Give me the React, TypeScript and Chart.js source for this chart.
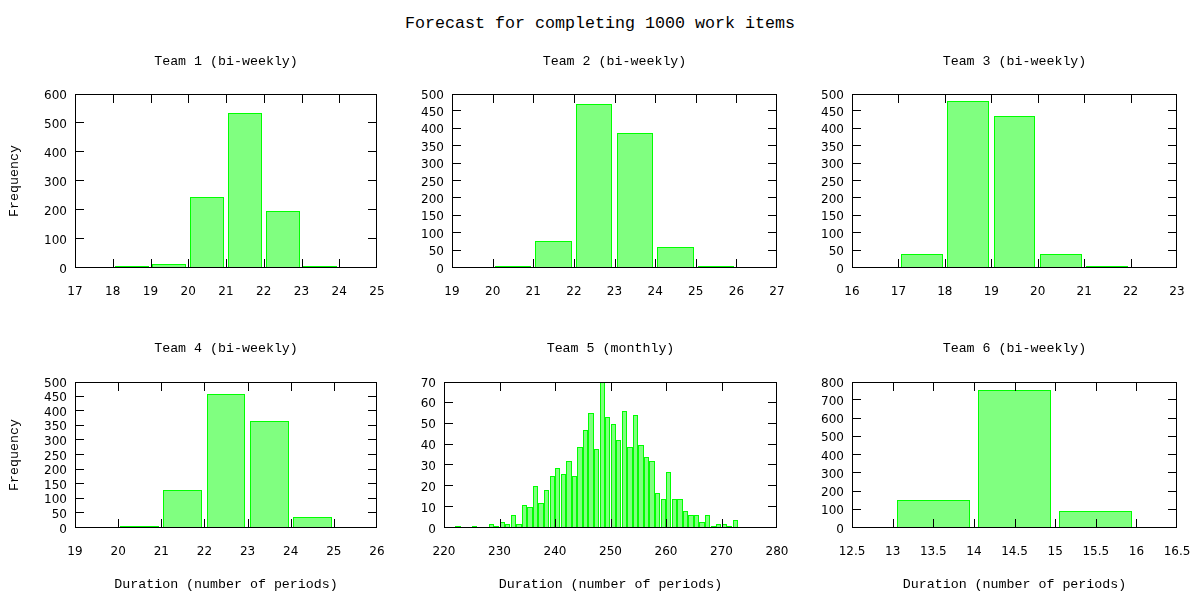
import React, { useEffect, useRef } from "react";
import { Chart, registerables } from "chart.js";

Chart.register(...registerables);

// ---------- data ----------
const chartTitle = "Forecast for completing 1000 work items";
const teamTitles = [
  "Team 1 (bi-weekly)",
  "Team 2 (bi-weekly)",
  "Team 3 (bi-weekly)",
  "Team 4 (bi-weekly)",
  "Team 5 (monthly)",
  "Team 6 (bi-weekly)",
];
const xAxisLabel = "Duration (number of periods)";
const yAxisLabel = "Frequency";

const team1Bins = [18, 19, 20, 21, 22, 23];
const team1Counts = [2, 15, 245, 533, 197, 8];

const team2Bins = [20, 21, 22, 23, 24, 25];
const team2Counts = [2, 77, 471, 387, 61, 2];

const team3Bins = [17, 18, 19, 20, 21];
const team3Counts = [40, 481, 438, 39, 2];

const team4Bins = [20, 21, 22, 23, 24];
const team4Counts = [6, 129, 460, 368, 37];

const team5Bins = [
  222, 223, 224, 225, 226, 227, 228, 229, 230, 231, 232, 233, 234, 235, 236, 237,
  238, 239, 240, 241, 242, 243, 244, 245, 246, 247, 248, 249, 250, 251, 252, 253,
  254, 255, 256, 257, 258, 259, 260, 261, 262, 263, 264, 265, 266, 267, 268, 269,
  270, 271, 272,
];
const team5Counts = [
  1, 0, 0, 1, 0, 0, 2, 1, 3, 2, 6, 2, 11, 10, 20, 12,
  18, 25, 29, 26, 32, 25, 39, 47, 55, 38, 70, 53, 50, 42, 56, 39,
  54, 40, 34, 32, 17, 14, 27, 14, 14, 8, 6, 6, 3, 6, 1, 2,
  2, 1, 4,
];

const team6Bins = [13, 14, 15];
const team6Counts = [152, 756, 92];

const teamBins = [team1Bins, team2Bins, team3Bins, team4Bins, team5Bins, team6Bins];
const teamCounts = [team1Counts, team2Counts, team3Counts, team4Counts, team5Counts, team6Counts];

const xAxisMin = [17, 19, 16, 19, 220, 12.5];
const xAxisMax = [25, 27, 23, 26, 280, 16.5];
const xAxisStep = [1, 1, 1, 1, 10, 0.5];
const yAxisMax = [600, 500, 500, 500, 70, 800];
const yAxisStep = [100, 50, 50, 50, 10, 100];

// ---------- layout / style ----------
const MONO = '"Liberation Mono", "DejaVu Sans Mono", monospace';
const SANS = '"DejaVu Sans", sans-serif';

const layoutSpec = [
  { left: 0, top: 40, height: 280, yW: 75, padR: 23, xH: 52, tTop: 13, tBot: 25, yTitle: true, xTitle: false, catPct: 1, barPct: 0.9 },
  { left: 400, top: 40, height: 280, yW: 52, padR: 23, xH: 52, tTop: 13, tBot: 25, yTitle: false, xTitle: false, catPct: 1, barPct: 0.9 },
  { left: 800, top: 40, height: 280, yW: 52, padR: 23, xH: 52, tTop: 13, tBot: 25, yTitle: false, xTitle: false, catPct: 1, barPct: 0.9 },
  { left: 0, top: 325, height: 275, yW: 75, padR: 23, xH: 72, tTop: 15, tBot: 26, yTitle: true, xTitle: true, catPct: 1, barPct: 0.9 },
  { left: 400, top: 325, height: 275, yW: 44, padR: 23, xH: 72, tTop: 15, tBot: 26, yTitle: false, xTitle: true, catPct: 1, barPct: 0.95 },
  { left: 800, top: 325, height: 275, yW: 52, padR: 23, xH: 72, tTop: 15, tBot: 26, yTitle: false, xTitle: true, catPct: 2, barPct: 0.9 },
];

const TICK_LEN = 9;

// snap bar rectangles (computed by the library) onto whole pixels for crisp outlines
const snapPlugin = {
  id: "snapBars",
  beforeDatasetsDraw(chart: any) {
    chart.getSortedVisibleDatasetMetas().forEach((meta: any) => {
      meta.data.forEach((el: any) => {
        const l = Math.round(el.x - el.width / 2);
        const r = Math.round(el.x + el.width / 2);
        el.x = (l + r) / 2;
        el.width = r - l;
        el.y = Math.round(el.y);
        el.base = Math.round(el.base);
      });
    });
  },
};

const framePlugin = {
  id: "gnuFrame",
  afterDatasetsDraw(chart: any) {
    const { ctx, chartArea } = chart;
    const { left, right, top, bottom } = chartArea;
    const xs = chart.scales.x;
    const ys = chart.scales.y;
    ctx.save();
    ctx.strokeStyle = "#000";
    ctx.lineWidth = 1;
    ctx.beginPath();
    xs.ticks.forEach((t: any) => {
      const p = Math.round(xs.getPixelForValue(t.value));
      if (p <= left || p >= right - 1) return;
      ctx.moveTo(p + 0.5, bottom);
      ctx.lineTo(p + 0.5, bottom - TICK_LEN);
      ctx.moveTo(p + 0.5, top);
      ctx.lineTo(p + 0.5, top + TICK_LEN);
    });
    ys.ticks.forEach((t: any) => {
      const p = Math.round(ys.getPixelForValue(t.value));
      if (p <= top + 1 || p >= bottom) return;
      ctx.moveTo(left, p - 0.5);
      ctx.lineTo(left + TICK_LEN, p - 0.5);
      ctx.moveTo(right, p - 0.5);
      ctx.lineTo(right - TICK_LEN, p - 0.5);
    });
    ctx.stroke();
    ctx.strokeRect(left + 0.5, top + 0.5, right - left - 1, bottom - top - 1);
    ctx.restore();
  },
};

function buildConfig(i: number): any {
  const s = layoutSpec[i];
  const bins = teamBins[i];
  const counts = teamCounts[i];
  const points = bins
    .map((b, k) => ({ x: b + 0.5, y: counts[k] }))
    .filter((p) => p.y > 0);
  const tickFont = { family: SANS, size: 12 };
  const labelFont = { family: MONO, size: 13.3, lineHeight: "16px", weight: "normal" };
  return {
    type: "bar",
    data: {
      datasets: [
        {
          data: points,
          backgroundColor: "#80ff80",
          borderColor: "#00ff00",
          borderWidth: 1,
          borderSkipped: false,
          minBarLength: 2,
          categoryPercentage: s.catPct,
          barPercentage: s.barPct,
        },
      ],
    },
    options: {
      animation: false,
      responsive: false,
      maintainAspectRatio: false,
      devicePixelRatio: 1,
      layout: { padding: { left: 0, top: 0, bottom: 0, right: s.padR } },
      plugins: {
        legend: { display: false },
        tooltip: { enabled: false },
        title: {
          display: true,
          text: teamTitles[i],
          fullSize: false,
          color: "#000",
          font: labelFont,
          padding: { top: s.tTop, bottom: s.tBot },
        },
      },
      scales: {
        x: {
          type: "linear",
          min: xAxisMin[i],
          max: xAxisMax[i],
          offset: false,
          grid: { display: false, offset: false, drawTicks: false },
          border: { display: false },
          ticks: {
            stepSize: xAxisStep[i],
            autoSkip: false,
            maxRotation: 0,
            minRotation: 0,
            padding: 17,
            color: "#000",
            font: tickFont,
            callback: (v: any) => String(v),
          },
          title: {
            display: s.xTitle,
            text: xAxisLabel,
            color: "#000",
            font: labelFont,
            padding: { top: 0, bottom: 8 },
          },
          afterFit: (sc: any) => {
            sc.height = s.xH;
            sc.paddingLeft = 0;
            sc.paddingRight = 0;
          },
        },
        y: {
          type: "linear",
          min: 0,
          max: yAxisMax[i],
          grid: { display: false, drawTicks: false },
          border: { display: false },
          ticks: {
            stepSize: yAxisStep[i],
            autoSkip: false,
            padding: 8,
            labelOffset: 1.5,
            color: "#000",
            font: tickFont,
            callback: (v: any) => String(v),
          },
          title: {
            display: s.yTitle,
            text: yAxisLabel,
            color: "#000",
            font: labelFont,
            padding: { top: 6.6, bottom: 0 },
          },
          afterFit: (sc: any) => {
            sc.width = s.yW;
            sc.paddingTop = 0;
            sc.paddingBottom = 0;
          },
        },
      },
    },
    plugins: [snapPlugin, framePlugin],
  };
}

function Panel({ index }: { index: number }) {
  const ref = useRef<HTMLCanvasElement>(null);
  useEffect(() => {
    if (!ref.current) return;
    const chart = new Chart(ref.current, buildConfig(index));
    return () => chart.destroy();
  }, [index]);
  const s = layoutSpec[index];
  return (
    <canvas
      ref={ref}
      width={400}
      height={s.height}
      style={{ position: "absolute", left: s.left, top: s.top, width: 400, height: s.height }}
    />
  );
}

export default function App() {
  return (
    <div
      style={{
        position: "fixed",
        left: 0,
        top: 0,
        width: 1200,
        height: 600,
        background: "#fff",
        overflow: "hidden",
      }}
    >
      <div
        style={{
          position: "absolute",
          left: 0,
          top: 14,
          width: 1200,
          textAlign: "center",
          fontFamily: MONO,
          fontSize: "16.67px",
          lineHeight: "20px",
          color: "#000",
          whiteSpace: "nowrap",
        }}
      >
        {chartTitle}
      </div>
      {teamTitles.map((_, i) => (
        <Panel key={i} index={i} />
      ))}
    </div>
  );
}
